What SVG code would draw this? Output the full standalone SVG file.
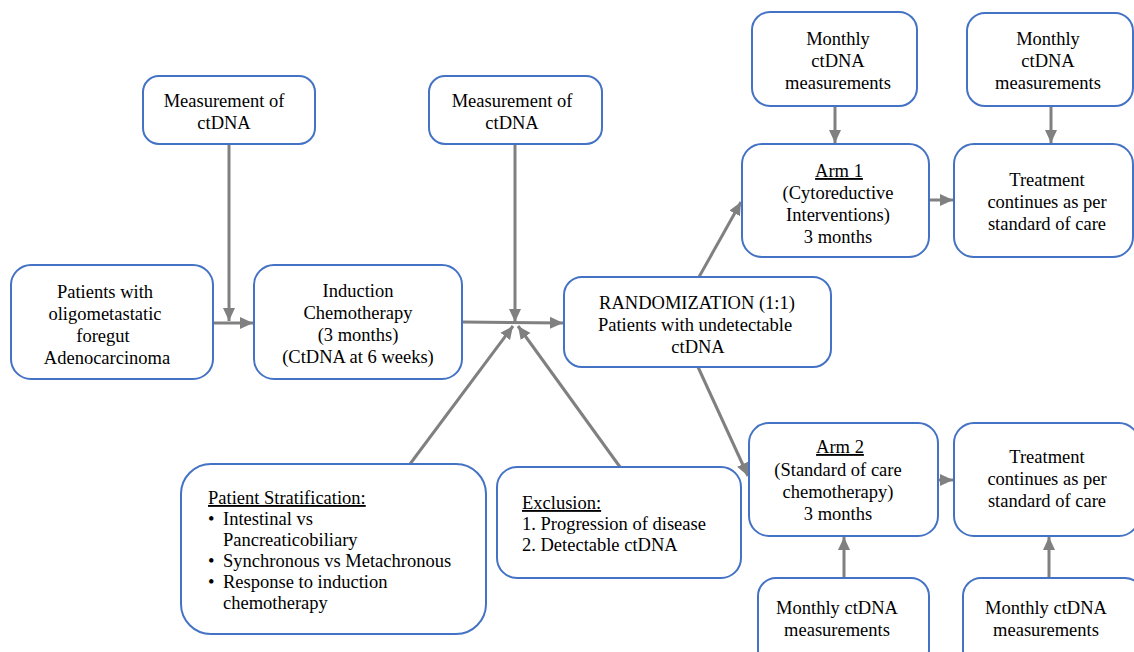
<svg xmlns="http://www.w3.org/2000/svg" width="1134" height="652" viewBox="0 0 1134 652" font-family="Liberation Serif, Times New Roman, serif" font-size="18.5">
<style>
.box{fill:#fff;stroke:#4472C4;stroke-width:2}
.c{text-anchor:middle}
.u{text-decoration:underline}
.con{stroke:#808080;stroke-width:3;fill:none}
</style>
<defs>
<marker id="ah" markerUnits="userSpaceOnUse" markerWidth="14" markerHeight="14" viewBox="0 0 14 14" refX="13" refY="7" orient="auto">
<path d="M0,1 L13,7 L0,13 Z" fill="#808080"/>
</marker>
</defs>
<rect width="1134" height="652" fill="#fff"/>
<g id="connectors">
<line class="con" x1="229" y1="144" x2="229" y2="321" marker-end="url(#ah)"/>
<line class="con" x1="213" y1="323" x2="253" y2="323" marker-end="url(#ah)"/>
<line class="con" x1="515" y1="144" x2="515" y2="322" marker-end="url(#ah)"/>
<line class="con" x1="462" y1="322" x2="563" y2="323" marker-end="url(#ah)"/>
<line class="con" x1="410" y1="464" x2="513" y2="326" marker-end="url(#ah)"/>
<line class="con" x1="620" y1="467" x2="518" y2="326" marker-end="url(#ah)"/>
<line class="con" x1="699" y1="277" x2="741" y2="202" marker-end="url(#ah)"/>
<line class="con" x1="698" y1="367" x2="748" y2="476" marker-end="url(#ah)"/>
<line class="con" x1="835" y1="106" x2="835" y2="143" marker-end="url(#ah)"/>
<line class="con" x1="1051" y1="106" x2="1051" y2="143" marker-end="url(#ah)"/>
<line class="con" x1="929" y1="200" x2="953" y2="200" marker-end="url(#ah)"/>
<line class="con" x1="938" y1="480" x2="953" y2="480" marker-end="url(#ah)"/>
<line class="con" x1="844" y1="578" x2="844" y2="537" marker-end="url(#ah)"/>
<line class="con" x1="1049" y1="578" x2="1049" y2="537" marker-end="url(#ah)"/>
</g>
<g id="patients">
<rect class="box" x="11" y="265" width="202" height="114" rx="20"/>
<text class="c" x="105" y="298">Patients with</text>
<text class="c" x="105" y="320">oligometastatic</text>
<text class="c" x="103" y="342">foregut</text>
<text class="c" x="107" y="364">Adenocarcinoma</text>
</g>
<g id="measure1">
<rect class="box" x="143" y="76" width="172" height="68" rx="16"/>
<text class="c" x="224" y="107">Measurement of</text>
<text class="c" x="224" y="129">ctDNA</text>
</g>
<g id="measure2">
<rect class="box" x="429" y="76" width="173" height="68" rx="16"/>
<text class="c" x="512" y="107">Measurement of</text>
<text class="c" x="512" y="129">ctDNA</text>
</g>
<g id="induction">
<rect class="box" x="254" y="265" width="208" height="114" rx="20"/>
<text class="c" x="358" y="297">Induction</text>
<text class="c" x="358" y="319">Chemotherapy</text>
<text class="c" x="358" y="341">(3 months)</text>
<text class="c" x="358" y="363">(CtDNA at 6 weeks)</text>
</g>
<g id="randomization">
<rect class="box" x="564" y="277" width="267" height="90" rx="18"/>
<text class="c" x="697" y="309">RANDOMIZATION (1:1)</text>
<text class="c" x="695" y="331">Patients with undetectable</text>
<text class="c" x="698" y="353">ctDNA</text>
</g>
<g id="monthly1">
<rect class="box" x="752" y="12" width="165" height="94" rx="18"/>
<text class="c" x="838" y="45">Monthly</text>
<text class="c" x="838" y="67">ctDNA</text>
<text class="c" x="838" y="89">measurements</text>
</g>
<g id="monthly2">
<rect class="box" x="967" y="13" width="166" height="93" rx="18"/>
<text class="c" x="1048" y="45">Monthly</text>
<text class="c" x="1048" y="67">ctDNA</text>
<text class="c" x="1048" y="89">measurements</text>
</g>
<g id="arm1">
<rect class="box" x="742" y="144" width="187" height="113" rx="20"/>
<text class="c u" x="839" y="177">Arm 1</text>
<text class="c" x="838" y="199">(Cytoreductive</text>
<text class="c" x="838" y="221">Interventions)</text>
<text class="c" x="838" y="243">3 months</text>
</g>
<g id="treatment1">
<rect class="box" x="954" y="144" width="179" height="113" rx="20"/>
<text class="c" x="1047" y="186">Treatment</text>
<text class="c" x="1047" y="208">continues as per</text>
<text class="c" x="1047" y="230">standard of care</text>
</g>
<g id="arm2">
<rect class="box" x="749" y="423" width="189" height="113" rx="20"/>
<text class="c u" x="840" y="453">Arm 2</text>
<text class="c" x="838" y="476">(Standard of care</text>
<text class="c" x="838" y="498">chemotherapy)</text>
<text class="c" x="838" y="520">3 months</text>
</g>
<g id="treatment2">
<rect class="box" x="954" y="423" width="185" height="113" rx="20"/>
<text class="c" x="1047" y="463">Treatment</text>
<text class="c" x="1047" y="485">continues as per</text>
<text class="c" x="1047" y="507">standard of care</text>
</g>
<g id="monthly3">
<rect class="box" x="758" y="578" width="171" height="90" rx="18"/>
<text class="c" x="837" y="614">Monthly ctDNA</text>
<text class="c" x="837" y="636">measurements</text>
</g>
<g id="monthly4">
<rect class="box" x="963" y="578" width="180" height="90" rx="18"/>
<text class="c" x="1046" y="614">Monthly ctDNA</text>
<text class="c" x="1046" y="636">measurements</text>
</g>
<g id="stratification">
<rect class="box" x="181" y="464" width="305" height="170" rx="30"/>
<text class="u" x="208" y="504">Patient Stratification:</text>
<text x="208" y="525">•</text><text x="223" y="525">Intestinal vs</text>
<text x="223" y="546">Pancreaticobiliary</text>
<text x="208" y="567">•</text><text x="223" y="567">Synchronous vs Metachronous</text>
<text x="208" y="588">•</text><text x="223" y="588">Response to induction</text>
<text x="223" y="609">chemotherapy</text>
</g>
<g id="exclusion">
<rect class="box" x="497" y="467" width="244" height="111" rx="20"/>
<text class="u" x="522" y="509">Exclusion:</text>
<text x="522" y="530">1. Progression of disease</text>
<text x="522" y="551">2. Detectable ctDNA</text>
</g>
</svg>
